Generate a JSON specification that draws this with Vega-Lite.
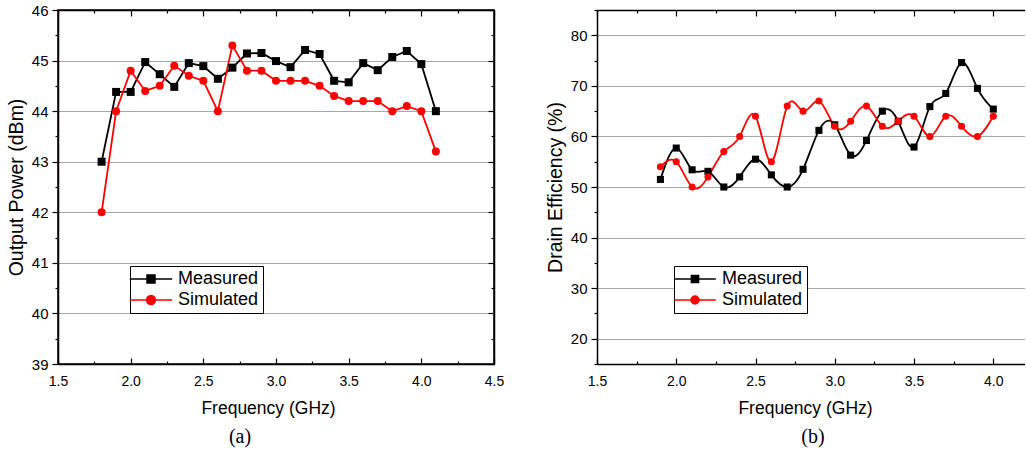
{
  "$schema": "https://vega.github.io/schema/vega-lite/v6.json",
  "background": "white",
  "padding": {"left": 5, "top": 2, "right": 0, "bottom": 0},
  "spacing": 40,
  "resolve": {
    "scale": {"color": "independent", "stroke": "independent", "shape": "independent"},
    "legend": {"color": "independent", "stroke": "independent", "shape": "independent"}
  },
  "datasets": {
    "a": [
      {"f": 1.8, "series": "Measured", "v": 43.0},
      {"f": 1.9, "series": "Measured", "v": 44.38},
      {"f": 2.0, "series": "Measured", "v": 44.38},
      {"f": 2.1, "series": "Measured", "v": 44.97},
      {"f": 2.2, "series": "Measured", "v": 44.73},
      {"f": 2.3, "series": "Measured", "v": 44.48},
      {"f": 2.4, "series": "Measured", "v": 44.95},
      {"f": 2.5, "series": "Measured", "v": 44.89},
      {"f": 2.6, "series": "Measured", "v": 44.64},
      {"f": 2.7, "series": "Measured", "v": 44.86},
      {"f": 2.8, "series": "Measured", "v": 45.14},
      {"f": 2.9, "series": "Measured", "v": 45.15},
      {"f": 3.0, "series": "Measured", "v": 44.99},
      {"f": 3.1, "series": "Measured", "v": 44.87},
      {"f": 3.2, "series": "Measured", "v": 45.21},
      {"f": 3.3, "series": "Measured", "v": 45.13},
      {"f": 3.4, "series": "Measured", "v": 44.6},
      {"f": 3.5, "series": "Measured", "v": 44.57},
      {"f": 3.6, "series": "Measured", "v": 44.95},
      {"f": 3.7, "series": "Measured", "v": 44.81},
      {"f": 3.8, "series": "Measured", "v": 45.07},
      {"f": 3.9, "series": "Measured", "v": 45.19},
      {"f": 4.0, "series": "Measured", "v": 44.93},
      {"f": 4.1, "series": "Measured", "v": 44.0},
      {"f": 1.8, "series": "Simulated", "v": 42.0},
      {"f": 1.9, "series": "Simulated", "v": 44.0},
      {"f": 2.0, "series": "Simulated", "v": 44.8},
      {"f": 2.1, "series": "Simulated", "v": 44.4},
      {"f": 2.2, "series": "Simulated", "v": 44.5},
      {"f": 2.3, "series": "Simulated", "v": 44.9},
      {"f": 2.4, "series": "Simulated", "v": 44.7},
      {"f": 2.5, "series": "Simulated", "v": 44.6},
      {"f": 2.6, "series": "Simulated", "v": 44.0},
      {"f": 2.7, "series": "Simulated", "v": 45.3},
      {"f": 2.8, "series": "Simulated", "v": 44.8},
      {"f": 2.9, "series": "Simulated", "v": 44.8},
      {"f": 3.0, "series": "Simulated", "v": 44.6},
      {"f": 3.1, "series": "Simulated", "v": 44.6},
      {"f": 3.2, "series": "Simulated", "v": 44.6},
      {"f": 3.3, "series": "Simulated", "v": 44.5},
      {"f": 3.4, "series": "Simulated", "v": 44.3},
      {"f": 3.5, "series": "Simulated", "v": 44.2},
      {"f": 3.6, "series": "Simulated", "v": 44.2},
      {"f": 3.7, "series": "Simulated", "v": 44.2},
      {"f": 3.8, "series": "Simulated", "v": 44.0},
      {"f": 3.9, "series": "Simulated", "v": 44.1},
      {"f": 4.0, "series": "Simulated", "v": 44.0},
      {"f": 4.1, "series": "Simulated", "v": 43.2}
    ],
    "b": [
      {"f": 1.9, "series": "Measured", "v": 51.5},
      {"f": 2.0, "series": "Measured", "v": 57.7},
      {"f": 2.1, "series": "Measured", "v": 53.4},
      {"f": 2.2, "series": "Measured", "v": 53.1},
      {"f": 2.3, "series": "Measured", "v": 50.0},
      {"f": 2.4, "series": "Measured", "v": 52.0},
      {"f": 2.5, "series": "Measured", "v": 55.5},
      {"f": 2.6, "series": "Measured", "v": 52.4},
      {"f": 2.7, "series": "Measured", "v": 50.0},
      {"f": 2.8, "series": "Measured", "v": 53.5},
      {"f": 2.9, "series": "Measured", "v": 61.2},
      {"f": 3.0, "series": "Measured", "v": 62.3},
      {"f": 3.1, "series": "Measured", "v": 56.3},
      {"f": 3.2, "series": "Measured", "v": 59.2},
      {"f": 3.3, "series": "Measured", "v": 65.0},
      {"f": 3.4, "series": "Measured", "v": 63.0},
      {"f": 3.5, "series": "Measured", "v": 57.9},
      {"f": 3.6, "series": "Measured", "v": 65.9},
      {"f": 3.7, "series": "Measured", "v": 68.5},
      {"f": 3.8, "series": "Measured", "v": 74.6},
      {"f": 3.9, "series": "Measured", "v": 69.5},
      {"f": 4.0, "series": "Measured", "v": 65.4},
      {"f": 1.9, "series": "Simulated", "v": 54.0},
      {"f": 2.0, "series": "Simulated", "v": 55.0},
      {"f": 2.1, "series": "Simulated", "v": 50.0},
      {"f": 2.2, "series": "Simulated", "v": 52.0},
      {"f": 2.3, "series": "Simulated", "v": 57.0},
      {"f": 2.4, "series": "Simulated", "v": 60.0},
      {"f": 2.5, "series": "Simulated", "v": 64.0},
      {"f": 2.6, "series": "Simulated", "v": 55.0},
      {"f": 2.7, "series": "Simulated", "v": 66.0},
      {"f": 2.8, "series": "Simulated", "v": 65.0},
      {"f": 2.9, "series": "Simulated", "v": 67.0},
      {"f": 3.0, "series": "Simulated", "v": 62.0},
      {"f": 3.1, "series": "Simulated", "v": 63.0},
      {"f": 3.2, "series": "Simulated", "v": 66.0},
      {"f": 3.3, "series": "Simulated", "v": 62.0},
      {"f": 3.4, "series": "Simulated", "v": 63.0},
      {"f": 3.5, "series": "Simulated", "v": 64.0},
      {"f": 3.6, "series": "Simulated", "v": 60.0},
      {"f": 3.7, "series": "Simulated", "v": 64.0},
      {"f": 3.8, "series": "Simulated", "v": 62.0},
      {"f": 3.9, "series": "Simulated", "v": 60.0},
      {"f": 4.0, "series": "Simulated", "v": 64.0}
    ]
  },
  "hconcat": [
    {
      "width": 436,
      "height": 354,
      "data": {"name": "a"},
      "title": {"text": "(a)", "orient": "bottom", "font": "Liberation Serif", "fontSize": 20, "fontWeight": "normal", "color": "black", "offset": 10, "dx": -36},
      "resolve": {"axis": {"x": "independent", "y": "independent"}},
      "layer": [
        {
          "mark": {"type": "line", "strokeWidth": 1.8},
          "encoding": {
            "x": {"field": "f", "type": "quantitative", "scale": {"domain": [1.5, 4.5], "nice": false, "zero": false},
              "axis": {"orient": "bottom", "title": "Frequency (GHz)", "titleX": 210, "values": [1.5, 1.75, 2.0, 2.25, 2.5, 2.75, 3.0, 3.25, 3.5, 3.75, 4.0, 4.25, 4.5],
                "labelExpr": "(datum.value * 2) % 1 == 0 ? format(datum.value, '.1f') : ''",
                "tickSize": {"condition": {"test": "(datum.value * 2) % 1 == 0", "value": -6}, "value": -3},
                "labelPadding": 16, "titlePadding": 8, "titleFontSize": 17.5, "grid": false, "labelFlush": false, "labelOverlap": false}},
            "y": {"field": "v", "type": "quantitative", "scale": {"domain": [39, 46], "nice": false, "zero": false},
              "axis": {"orient": "left", "title": "Output Power (dBm)", "values": [39, 39.5, 40, 40.5, 41, 41.5, 42, 42.5, 43, 43.5, 44, 44.5, 45, 45.5, 46],
                "labelExpr": "datum.value % 1 == 0 ? format(datum.value, 'd') : ''",
                "tickSize": {"condition": {"test": "datum.value % 1 == 0", "value": 6}, "value": 3},
                "labelPadding": 4, "titlePadding": 5, "labelFontSize": 15, "titleFontSize": 19.5, "grid": true,
                "gridOpacity": {"condition": {"test": "datum.value % 1 == 0 && datum.value > 39.5 && datum.value < 45.5", "value": 1}, "value": 0},
                "labelFlush": false, "labelOverlap": false}},
            "color": {"field": "series", "type": "nominal", "scale": {"domain": ["Measured", "Simulated"], "range": ["black", "red"]},
              "legend": {"title": null, "orient": "none", "legendX": 72, "legendY": 256, "strokeColor": "black", "fillColor": "white", "padding": 4,
                "labelFontSize": 18, "labelFont": "Liberation Sans", "labelColor": "black", "symbolSize": 64, "symbolOffset": 8, "labelOffset": 18, "rowPadding": 3, "symbolStrokeWidth": 1.5, "symbolOpacity": 1}}
          }
        },
        {
          "transform": [{"filter": "datum.series === 'Measured'"}],
          "mark": {"type": "point", "shape": "square", "filled": true, "size": 64, "opacity": 1},
          "encoding": {
            "x": {"field": "f", "type": "quantitative", "axis": null},
            "y": {"field": "v", "type": "quantitative", "axis": null},
            "color": {"field": "series", "type": "nominal"}
          }
        },
        {
          "transform": [{"filter": "datum.series === 'Simulated'"}],
          "mark": {"type": "point", "shape": "circle", "filled": true, "size": 64, "opacity": 1},
          "encoding": {
            "x": {"field": "f", "type": "quantitative", "axis": null},
            "y": {"field": "v", "type": "quantitative", "axis": null},
            "color": {"field": "series", "type": "nominal"}
          }
        },
        {
          "mark": {"type": "point", "filled": true, "size": 64, "opacity": 0},
          "encoding": {
            "x": {"field": "f", "type": "quantitative",
              "axis": {"orient": "top", "title": null, "labels": false, "values": [1.5, 1.75, 2.0, 2.25, 2.5, 2.75, 3.0, 3.25, 3.5, 3.75, 4.0, 4.25, 4.5],
                "tickSize": {"condition": {"test": "(datum.value * 2) % 1 == 0", "value": -6}, "value": -3}, "grid": false}},
            "y": {"field": "v", "type": "quantitative",
              "axis": {"orient": "right", "title": null, "labels": false, "values": [39, 39.5, 40, 40.5, 41, 41.5, 42, 42.5, 43, 43.5, 44, 44.5, 45, 45.5, 46],
                "tickSize": {"condition": {"test": "datum.value % 1 == 0", "value": -6}, "value": -3}, "grid": false}},
            "color": {"field": "series", "type": "nominal"},
            "stroke": {"field": "series", "type": "nominal", "scale": {"domain": ["Measured", "Simulated"], "range": ["black", "red"]},
              "legend": {"title": null, "orient": "none", "legendX": 72, "legendY": 256, "strokeColor": "black", "fillColor": "white", "padding": 4,
                "labelFontSize": 18, "labelFont": "Liberation Sans", "labelColor": "black", "symbolSize": 64, "symbolOffset": 8, "labelOffset": 18, "rowPadding": 3, "symbolStrokeWidth": 1.5, "symbolOpacity": 1}},
            "shape": {"field": "series", "type": "nominal",
              "scale": {"domain": ["Measured", "Simulated"], "range": ["M -5.3 0 L 5.3 0 M -1 -1 L 1 -1 L 1 1 L -1 1 Z", "M -5.3 0 L 5.3 0 M 1.1 0 A 1.1 1.1 0 1 1 -1.1 0 A 1.1 1.1 0 1 1 1.1 0 Z"]},
              "legend": {"title": null, "orient": "none", "legendX": 72, "legendY": 256, "strokeColor": "black", "fillColor": "white", "padding": 4,
                "labelFontSize": 18, "labelFont": "Liberation Sans", "labelColor": "black", "symbolSize": 64, "symbolOffset": 8, "labelOffset": 18, "rowPadding": 3, "symbolStrokeWidth": 1.5, "symbolOpacity": 1}}
          }
        }
      ]
    },
    {
      "width": 428,
      "height": 354,
      "data": {"name": "b"},
      "view": {"stroke": null},
      "title": {"text": "(b)", "orient": "bottom", "font": "Liberation Serif", "fontSize": 20, "fontWeight": "normal", "color": "black", "offset": 10, "dx": 2},
      "resolve": {"axis": {"x": "independent", "y": "independent"}},
      "layer": [
        {
          "mark": {"type": "line", "strokeWidth": 1.8, "interpolate": "natural"},
          "encoding": {
            "x": {"field": "f", "type": "quantitative", "scale": {"domain": [1.5, 4.2], "nice": false, "zero": false},
              "axis": {"orient": "bottom", "title": "Frequency (GHz)", "titleX": 208, "values": [1.5, 1.75, 2.0, 2.25, 2.5, 2.75, 3.0, 3.25, 3.5, 3.75, 4.0],
                "labelExpr": "(datum.value * 2) % 1 == 0 ? format(datum.value, '.1f') : ''",
                "tickSize": {"condition": {"test": "(datum.value * 2) % 1 == 0", "value": -6}, "value": -3},
                "labelPadding": 16, "titlePadding": 8, "titleFontSize": 17.5, "grid": false, "labelFlush": false, "labelOverlap": false}},
            "y": {"field": "v", "type": "quantitative", "scale": {"domain": [15, 85], "nice": false, "zero": false},
              "axis": {"orient": "left", "title": "Drain Efficiency (%)", "values": [15, 20, 25, 30, 35, 40, 45, 50, 55, 60, 65, 70, 75, 80, 85],
                "labelExpr": "datum.value % 10 == 0 ? format(datum.value, 'd') : ''",
                "tickSize": {"condition": {"test": "datum.value % 10 == 0", "value": 6}, "value": 3},
                "labelPadding": 4, "titlePadding": 5, "labelFontSize": 15, "titleFontSize": 19.5, "grid": true,
                "gridOpacity": {"condition": {"test": "datum.value % 10 == 0", "value": 1}, "value": 0},
                "labelFlush": false, "labelOverlap": false}},
            "color": {"field": "series", "type": "nominal", "scale": {"domain": ["Measured", "Simulated"], "range": ["black", "red"]},
              "legend": {"title": null, "orient": "none", "legendX": 77, "legendY": 256, "strokeColor": "black", "fillColor": "white", "padding": 4,
                "labelFontSize": 18, "labelFont": "Liberation Sans", "labelColor": "black", "symbolSize": 64, "symbolOffset": 8, "labelOffset": 18, "rowPadding": 3, "symbolStrokeWidth": 1.5, "symbolOpacity": 1}}
          }
        },
        {
          "transform": [{"filter": "datum.series === 'Measured'"}],
          "mark": {"type": "point", "shape": "square", "filled": true, "size": 50, "opacity": 1},
          "encoding": {
            "x": {"field": "f", "type": "quantitative", "axis": null},
            "y": {"field": "v", "type": "quantitative", "axis": null},
            "color": {"field": "series", "type": "nominal"}
          }
        },
        {
          "transform": [{"filter": "datum.series === 'Simulated'"}],
          "mark": {"type": "point", "shape": "circle", "filled": true, "size": 50, "opacity": 1},
          "encoding": {
            "x": {"field": "f", "type": "quantitative", "axis": null},
            "y": {"field": "v", "type": "quantitative", "axis": null},
            "color": {"field": "series", "type": "nominal"}
          }
        },
        {
          "mark": {"type": "point", "filled": true, "size": 50, "opacity": 0},
          "encoding": {
            "x": {"field": "f", "type": "quantitative",
              "axis": {"orient": "top", "title": null, "labels": false, "values": [1.5, 1.75, 2.0, 2.25, 2.5, 2.75, 3.0, 3.25, 3.5, 3.75, 4.0],
                "tickSize": {"condition": {"test": "(datum.value * 2) % 1 == 0", "value": -6}, "value": -3}, "grid": false}},
            "y": {"field": "v", "type": "quantitative", "axis": null},
            "color": {"field": "series", "type": "nominal"},
            "stroke": {"field": "series", "type": "nominal", "scale": {"domain": ["Measured", "Simulated"], "range": ["black", "red"]},
              "legend": {"title": null, "orient": "none", "legendX": 77, "legendY": 256, "strokeColor": "black", "fillColor": "white", "padding": 4,
                "labelFontSize": 18, "labelFont": "Liberation Sans", "labelColor": "black", "symbolSize": 64, "symbolOffset": 8, "labelOffset": 18, "rowPadding": 3, "symbolStrokeWidth": 1.5, "symbolOpacity": 1}},
            "shape": {"field": "series", "type": "nominal",
              "scale": {"domain": ["Measured", "Simulated"], "range": ["M -5.2 0 L 5.2 0 M -0.9 -0.9 L 0.9 -0.9 L 0.9 0.9 L -0.9 0.9 Z", "M -5.2 0 L 5.2 0 M 1 0 A 1 1 0 1 1 -1 0 A 1 1 0 1 1 1 0 Z"]},
              "legend": {"title": null, "orient": "none", "legendX": 77, "legendY": 256, "strokeColor": "black", "fillColor": "white", "padding": 4,
                "labelFontSize": 18, "labelFont": "Liberation Sans", "labelColor": "black", "symbolSize": 64, "symbolOffset": 8, "labelOffset": 18, "rowPadding": 3, "symbolStrokeWidth": 1.5, "symbolOpacity": 1}}
          }
        }
      ]
    }
  ],
  "config": {
    "font": "Liberation Sans",
    "view": {"stroke": "black", "strokeWidth": 1.5},
    "axis": {"domainColor": "black", "domainWidth": 1.5, "tickColor": "black", "tickWidth": 1.2, "labelColor": "black", "titleColor": "black",
      "labelFont": "Liberation Sans", "titleFont": "Liberation Sans", "labelFontSize": 14, "titleFontSize": 16, "titleFontWeight": "normal",
      "gridColor": "#a8a8a8", "gridWidth": 1.2}
  }
}
